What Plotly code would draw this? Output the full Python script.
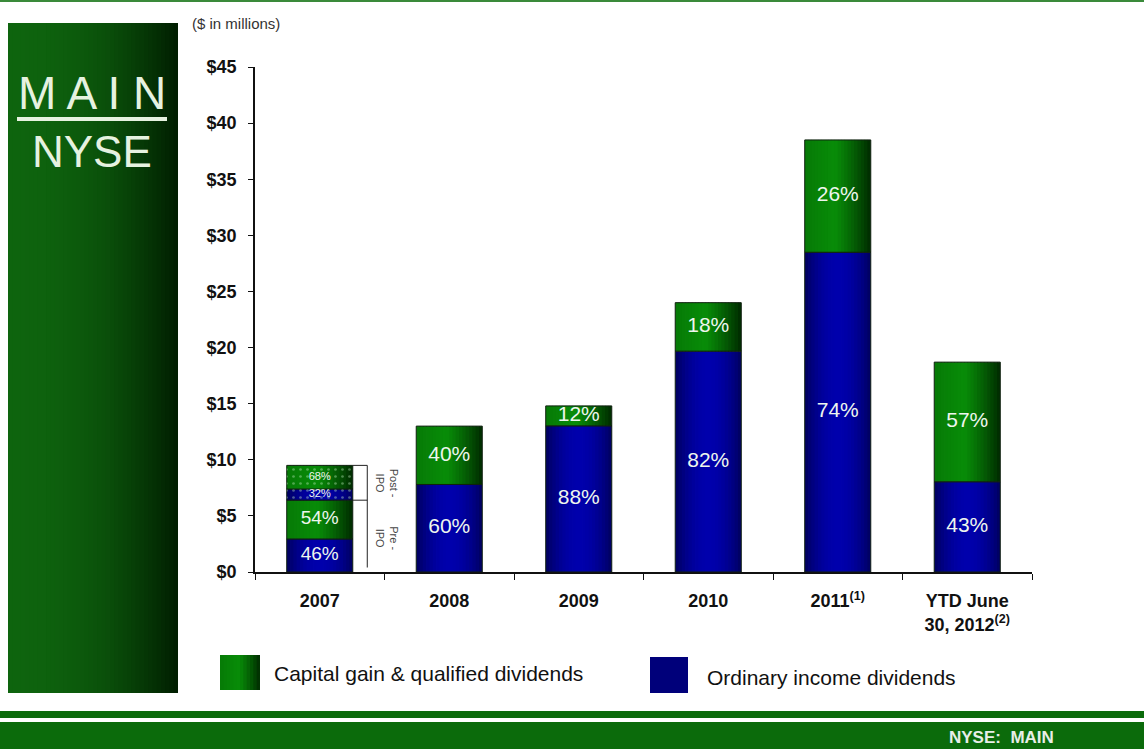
import math
import plotly.graph_objects as go

# ---- data ($ in millions) ----
categories = ["2007", "2008", "2009", "2010", "2011", "YTD 2012"]
tick_labels = ["2007", "2008", "2009", "2010", "2011<sup>(1)</sup>",
               "YTD June<br>30, 2012<sup>(2)</sup>"]

# Total dividends per period; the 2007 entry is the pre-IPO portion
period_totals = [6.4, 13.0, 14.8, 24.0, 38.5, 18.7]
ordinary_pct = [46, 60, 88, 82, 74, 43]

# 2007 post-IPO portion, stacked on top of the pre-IPO portion
post_ipo_total = 3.1
post_ipo_ordinary_pct = 32

y_ticks = [0, 5, 10, 15, 20, 25, 30, 35, 40, 45]
y_tick_labels = ["$" + str(v) for v in y_ticks]

# ---- derived segment values ----
ordinary = [t * p / 100 for t, p in zip(period_totals, ordinary_pct)]
capital = [t - o for t, o in zip(period_totals, ordinary)]
capital_pct = [100 - p for p in ordinary_pct]
post_ord = post_ipo_total * post_ipo_ordinary_pct / 100
post_cap = post_ipo_total - post_ord
post_cap_pct = 100 - post_ipo_ordinary_pct

NARROW = "Liberation Sans Narrow, Arial Narrow, Liberation Sans, Arial, sans-serif"
REG = "Liberation Sans, Arial, sans-serif"
BAR_W = 0.51
N_SLICES = 20

# plot-area pixel frame, used to place the decorations around the chart
W, H = 1144, 749
L, R, T, B = 255, 1032, 67, 572


def px(x):
    return (x - L) / (R - L)


def py(y):
    return (B - y) / (B - T)


def mix(c1, c2, t):
    a = [int(c1[i:i + 2], 16) for i in (1, 3, 5)]
    b = [int(c2[i:i + 2], 16) for i in (1, 3, 5)]
    return "rgb(%d,%d,%d)" % tuple(round(a[k] + (b[k] - a[k]) * t) for k in range(3))


def green_shade(t):
    if t < 0.45:
        return mix("#067a06", "#088c08", t / 0.45)
    return mix("#088c08", "#002a00", ((t - 0.45) / 0.55) ** 1.2)


def blue_shade(t):
    return mix("#00005a", "#0000ac", math.sin(math.pi * t) ** 0.8)


def note(x, y, text, font, **kw):
    d = dict(x=px(x), y=py(y), xref="paper", yref="paper", showarrow=False,
             text=text, font=font, xanchor="center", yanchor="middle")
    d.update(kw)
    return d


fig = go.Figure()


def add_shaded(x, y, base, shade):
    step = BAR_W / N_SLICES
    for i in range(N_SLICES):
        fig.add_trace(go.Bar(
            x=x, y=y, base=base,
            width=step * (1.25 if i < N_SLICES - 1 else 1.0),
            offset=-BAR_W / 2 + i * step,
            marker=dict(color=shade((i + 0.5) / N_SLICES), line=dict(width=0)),
            hoverinfo="skip", showlegend=False))
    fig.add_trace(go.Bar(
        x=x, y=y, base=base, width=BAR_W,
        marker=dict(color="rgba(0,0,0,0)", line=dict(color="#102010", width=1)),
        hoverinfo="skip", showlegend=False))


# stacked segments
add_shaded(categories, ordinary, [0] * len(categories), blue_shade)
add_shaded(categories, capital, ordinary, green_shade)
add_shaded(["2007"], [post_ord], [period_totals[0]], blue_shade)
add_shaded(["2007"], [post_cap], [period_totals[0] + post_ord], green_shade)

# dotted texture on the 2007 post-IPO portion
fig.add_trace(go.Bar(
    x=["2007", "2007"], y=[post_ord, post_cap],
    base=[period_totals[0], period_totals[0] + post_ord], width=BAR_W,
    marker=dict(color="rgba(0,0,0,0)", line=dict(width=0),
                pattern=dict(shape=".", fgcolor="rgba(190,235,190,0.8)",
                             size=7, solidity=0.12, fillmode="overlay")),
    hoverinfo="skip", showlegend=False))

# percentage labels
big_x = categories[1:] + categories[1:]
big_y = [o / 2 for o in ordinary[1:]] + [o + c / 2 for o, c in zip(ordinary[1:], capital[1:])]
big_t = ["%d%%" % p for p in ordinary_pct[1:]] + ["%d%%" % p for p in capital_pct[1:]]
fig.add_trace(go.Scatter(
    x=big_x, y=big_y, text=big_t, mode="text",
    textfont=dict(family=NARROW, size=21, color="#eef6ee"),
    hoverinfo="skip", showlegend=False))
fig.add_trace(go.Scatter(
    x=["2007", "2007"], y=[ordinary[0] / 2, ordinary[0] + capital[0] / 2],
    text=["%d%%" % ordinary_pct[0], "%d%%" % capital_pct[0]], mode="text",
    textfont=dict(family=NARROW, size=19, color="#eef6ee"),
    hoverinfo="skip", showlegend=False))
fig.add_trace(go.Scatter(
    x=["2007", "2007"],
    y=[period_totals[0] + post_ord / 2, period_totals[0] + post_ord + post_cap / 2],
    text=["%d%%" % post_ipo_ordinary_pct, "%d%%" % post_cap_pct], mode="text",
    textfont=dict(family=NARROW, size=11, color="#eef6ee"),
    hoverinfo="skip", showlegend=False))

shapes = []
annotations = []

# pre/post IPO bracket beside the 2007 bar
top_2007 = period_totals[0] + post_ipo_total
bx0, bx1 = BAR_W / 2, 0.367
line_k = dict(color="#222222", width=1)
shapes += [
    dict(type="line", xref="x", yref="y", x0=bx0, x1=bx1, y0=top_2007, y1=top_2007, line=line_k),
    dict(type="line", xref="x", yref="y", x0=bx0, x1=bx1, y0=period_totals[0], y1=period_totals[0], line=line_k),
    dict(type="line", xref="x", yref="y", x0=bx1, x1=bx1, y0=top_2007, y1=0.4, line=line_k),
]
annotations += [
    dict(x=0.52, y=period_totals[0] + post_ipo_total / 2, xref="x", yref="y",
         text="Post -<br>IPO", textangle=90, showarrow=False,
         xanchor="center", yanchor="middle",
         font=dict(family=NARROW, size=11, color="#444444")),
    dict(x=0.52, y=3.0, xref="x", yref="y",
         text="Pre -<br>IPO", textangle=90, showarrow=False,
         xanchor="center", yanchor="middle",
         font=dict(family=NARROW, size=11, color="#444444")),
]

# left title panel with horizontal shading
n_strips = 40
x_a, x_b = 8, 178
for i in range(n_strips):
    t = (i + 0.5) / n_strips
    xa = x_a + (x_b - x_a) * i / n_strips
    xb = x_a + (x_b - x_a) * (i + 1.3) / n_strips if i < n_strips - 1 else x_b
    shapes.append(dict(type="rect", xref="paper", yref="paper", layer="below",
                       x0=px(xa), x1=px(xb), y0=py(693), y1=py(23),
                       line=dict(width=0),
                       fillcolor=mix("#0e640e", "#001c00", t ** 2.2)))
annotations += [
    note(92, 93, "M A I N", dict(family=REG, size=46, color="#e6f2e0")),
    note(92, 151, "NYSE", dict(family=REG, size=44, color="#e6f2e0")),
]
shapes.append(dict(type="rect", xref="paper", yref="paper",
                   x0=px(17), x1=px(167), y0=py(121), y1=py(117),
                   line=dict(width=0), fillcolor="#e6f2e0"))

# thin rule across the top
shapes.append(dict(type="rect", xref="paper", yref="paper",
                   x0=px(0), x1=px(W), y0=py(2), y1=py(0),
                   line=dict(width=0), fillcolor="#3a8a3a"))

# footer band
shapes += [
    dict(type="rect", xref="paper", yref="paper", x0=px(0), x1=px(W),
         y0=py(718), y1=py(711), line=dict(width=0), fillcolor="#0b6b0b"),
    dict(type="rect", xref="paper", yref="paper", x0=px(0), x1=px(W),
         y0=py(749), y1=py(722), line=dict(width=0), fillcolor="#0b6b0b"),
]
annotations.append(note(1001, 737, "<b>NYSE:  MAIN</b>",
                        dict(family=NARROW, size=17, color="#e8eee8")))

# units note
annotations.append(note(190, 24, "($ in millions)",
                        dict(family=NARROW, size=15, color="#333333"),
                        xanchor="left"))

# legend
for j in range(12):
    t = (j + 0.5) / 12
    xa = 220 + 40 * j / 12
    xb = 220 + 40 * (j + 1.3) / 12 if j < 11 else 260
    shapes.append(dict(type="rect", xref="paper", yref="paper",
                       x0=px(xa), x1=px(xb), y0=py(690), y1=py(655),
                       line=dict(width=0), fillcolor=green_shade(t)))
shapes.append(dict(type="rect", xref="paper", yref="paper",
                   x0=px(650), x1=px(688), y0=py(693), y1=py(657),
                   line=dict(width=0), fillcolor="#00007a"))
annotations += [
    note(272, 673, "Capital gain & qualified dividends",
         dict(family=NARROW, size=21, color="#111111"), xanchor="left"),
    note(705, 677, "Ordinary income dividends",
         dict(family=NARROW, size=21, color="#111111"), xanchor="left"),
]

fig.update_layout(
    width=W, height=H,
    margin=dict(l=L, r=W - R, t=T, b=H - B),
    paper_bgcolor="white", plot_bgcolor="white",
    barmode="overlay", showlegend=False,
    shapes=shapes, annotations=annotations,
    xaxis=dict(type="category", categoryorder="array", categoryarray=categories,
               range=[-0.5, 5.5], tickvals=categories, ticktext=tick_labels,
               tickson="boundaries", ticks="outside", ticklen=6,
               tickcolor="#111111", showline=True, linecolor="#111111",
               linewidth=1.5, showgrid=False, zeroline=False,
               ticklabelstandoff=12,
               tickfont=dict(family=NARROW, size=18, color="#111111", weight="bold")),
    yaxis=dict(range=[0, 45], tickvals=y_ticks, ticktext=y_tick_labels,
               ticks="outside", ticklen=5, tickcolor="#111111",
               showline=True, linecolor="#111111", linewidth=1.5,
               showgrid=False, zeroline=False, ticklabelstandoff=8,
               tickfont=dict(family=NARROW, size=18, color="#111111", weight="bold")),
)

fig.write_html("out.html")
